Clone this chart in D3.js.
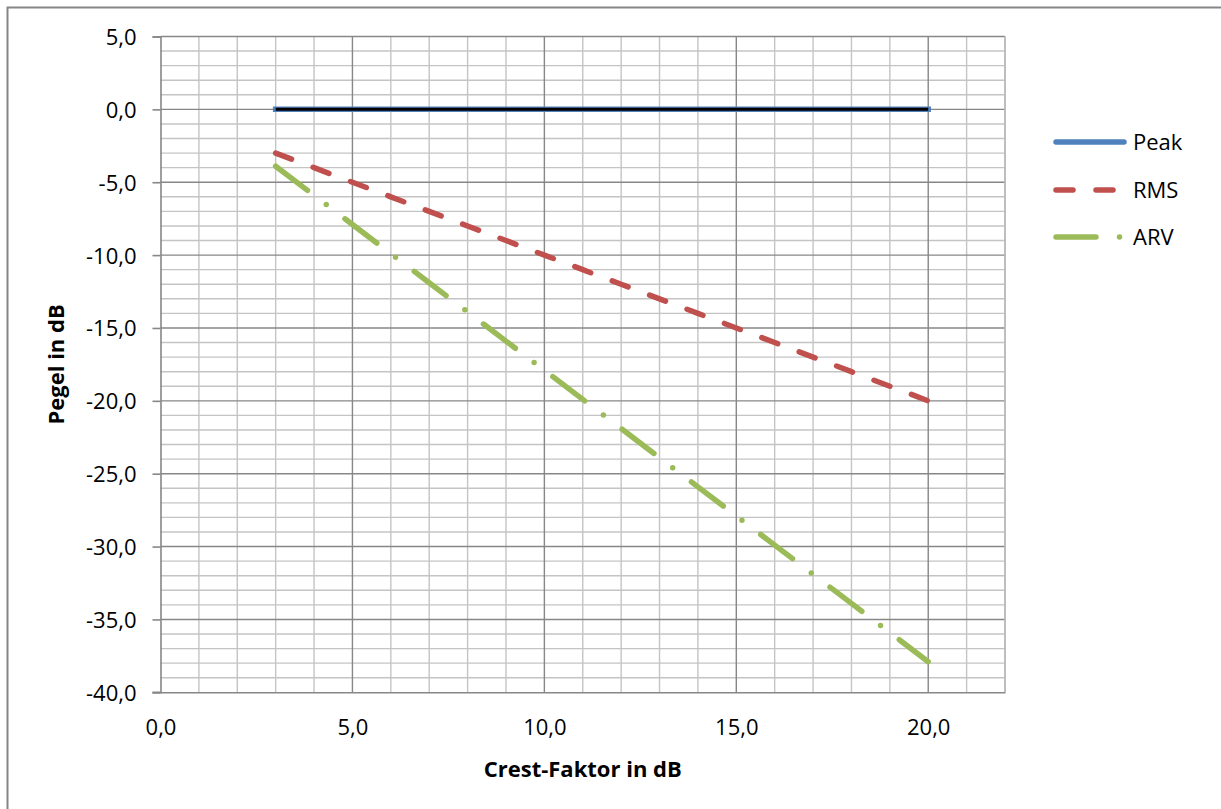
<!DOCTYPE html>
<html>
<head>
<meta charset="utf-8">
<script src="https://cdn.jsdelivr.net/npm/d3@7/dist/d3.min.js"></script>
<style>
  html, body { margin: 0; padding: 0; background: #fff; }
  svg { display: block; }
  text { font-family: "Open Sans", Lato, sans-serif; fill: #000; }
</style>
</head>
<body>
<svg id="chart" width="1221" height="809"></svg>
<script>
// Crest factor (dB) and levels of the three detector types (dB)
const crest = [3, 4, 5, 6, 7, 8, 9, 10, 11, 12, 13, 14, 15, 16, 17, 18, 19, 20];
const peak  = [0, 0, 0, 0, 0, 0, 0, 0, 0, 0, 0, 0, 0, 0, 0, 0, 0, 0];
const rms   = [-3, -4, -5, -6, -7, -8, -9, -10, -11, -12, -13, -14, -15, -16, -17, -18, -19, -20];
const arv   = [-3.9, -5.9, -7.9, -9.9, -11.9, -13.9, -15.9, -17.9, -19.9, -21.9,
               -23.9, -25.9, -27.9, -29.9, -31.9, -33.9, -35.9, -37.9];

const xTicks = [0, 5, 10, 15, 20];
const yTicks = [5, 0, -5, -10, -15, -20, -25, -30, -35, -40];
const seriesNames = ["Peak", "RMS", "ARV"];

const FONT = "'Open Sans', Lato, sans-serif";
const fmt = v => d3.format(".1f")(v).replace(".", ",").replace("−", "-");

const svg = d3.select("#chart");
const W = 1221, H = 809;
const plot = { left: 160.5, right: 1005, top: 36.5, bottom: 692.3 };

const x = d3.scaleLinear().domain([0, 22]).range([plot.left, plot.right]);
const y = d3.scaleLinear().domain([-40, 5]).range([plot.bottom, plot.top]);

// outer chart frame
svg.append("rect")
  .attr("x", 7.5).attr("y", 7.5).attr("width", W).attr("height", H)
  .attr("fill", "none").attr("stroke", "#868686").attr("stroke-width", 2);

const minorCol = "#c4c4c4", majorCol = "#878787";

// minor grid (every 1 unit)
const grid = svg.append("g");
d3.range(1, 23).filter(v => v % 5 !== 0).forEach(v => {
  grid.append("line").attr("x1", x(v)).attr("x2", x(v)).attr("y1", y(5)).attr("y2", y(-40))
    .attr("stroke", minorCol).attr("stroke-width", 1.4);
});
d3.range(-39, 5).filter(v => v % 5 !== 0).forEach(v => {
  grid.append("line").attr("x1", x(0)).attr("x2", x(22)).attr("y1", y(v)).attr("y2", y(v))
    .attr("stroke", minorCol).attr("stroke-width", 1.4);
});
// major grid
[5, 10, 15, 20].forEach(v => {
  grid.append("line").attr("x1", x(v)).attr("x2", x(v)).attr("y1", y(5)).attr("y2", y(-40))
    .attr("stroke", majorCol).attr("stroke-width", 1.4);
});
yTicks.filter(v => v !== -40).forEach(v => {
  grid.append("line").attr("x1", x(0)).attr("x2", x(22)).attr("y1", y(v)).attr("y2", y(v))
    .attr("stroke", majorCol).attr("stroke-width", 1.4);
});

// y axis
const yAxis = svg.append("g").attr("transform", `translate(${x(0)},0)`)
  .call(d3.axisLeft(y).tickValues(yTicks).tickSize(8).tickPadding(16).tickFormat(fmt));
yAxis.select(".domain").attr("stroke", majorCol).attr("stroke-width", 1.6);
yAxis.selectAll(".tick line").attr("stroke", majorCol).attr("stroke-width", 1.6);
yAxis.selectAll(".tick text").attr("font-size", 22).attr("font-family", FONT)
  .attr("fill", "#000").attr("dy", "0.36em");

// x axis
const xAxis = svg.append("g").attr("transform", `translate(0,${y(-40)})`)
  .call(d3.axisBottom(x).tickValues(xTicks).tickSize(0).tickPadding(27).tickFormat(fmt));
xAxis.select(".domain").attr("stroke", majorCol).attr("stroke-width", 1.6);
xAxis.selectAll(".tick text").attr("font-size", 22).attr("font-family", FONT)
  .attr("fill", "#000");
// left stub of the x axis line (tick at -40)
svg.append("line").attr("x1", x(0) - 8).attr("x2", x(0)).attr("y1", y(-40)).attr("y2", y(-40))
  .attr("stroke", majorCol).attr("stroke-width", 1.6);
// right border of the plot
svg.append("line").attr("x1", x(22)).attr("x2", x(22)).attr("y1", y(5)).attr("y2", y(-40))
  .attr("stroke", "#b8b8b8").attr("stroke-width", 1.6);

// axis titles
svg.append("text").attr("x", (plot.left + plot.right) / 2).attr("y", 777)
  .attr("text-anchor", "middle").attr("font-size", 22).attr("font-weight", "bold")
  .text("Crest-Faktor in dB");
svg.append("text").attr("transform", `translate(64,${(plot.top + plot.bottom) / 2}) rotate(-90)`)
  .attr("text-anchor", "middle").attr("font-size", 22).attr("font-weight", "bold")
  .text("Pegel in dB");

// series
const line = vals => d3.line().x((d, i) => x(crest[i])).y(d => y(d))(vals);

const styles = {
  Peak: { color: "#4f81bd", dash: null },
  RMS:  { color: "#c0504d", dash: "17,23" },
  ARV:  { color: "#9bbb59", dash: "40,23.5,0,23.5" }
};

// ARV
svg.append("path").attr("d", line(arv)).attr("fill", "none")
  .attr("stroke", styles.ARV.color).attr("stroke-width", 5.5)
  .attr("stroke-linecap", "round").attr("stroke-dasharray", styles.ARV.dash);
// RMS
svg.append("path").attr("d", line(rms)).attr("fill", "none")
  .attr("stroke", styles.RMS.color).attr("stroke-width", 5.5)
  .attr("stroke-linecap", "round").attr("stroke-dasharray", styles.RMS.dash);
// Peak: blue line with dark core
svg.append("path").attr("d", line(peak)).attr("fill", "none")
  .attr("stroke", styles.Peak.color).attr("stroke-width", 5.5).attr("stroke-linecap", "square");
svg.append("path").attr("d", line(peak)).attr("fill", "none")
  .attr("stroke", "#000").attr("stroke-width", 3).attr("stroke-linecap", "butt");

// legend
const legend = svg.append("g");
const legY = [142, 190, 237];
seriesNames.forEach((name, i) => {
  const st = styles[name];
  legend.append("line").attr("x1", 1056).attr("x2", 1124).attr("y1", legY[i]).attr("y2", legY[i])
    .attr("stroke", st.color).attr("stroke-width", 5.5).attr("stroke-linecap", "round")
    .attr("stroke-dasharray", st.dash);
  legend.append("text").attr("x", 1133).attr("y", legY[i]).attr("dy", "0.36em")
    .attr("font-size", 22).text(name);
});
</script>
</body>
</html>
